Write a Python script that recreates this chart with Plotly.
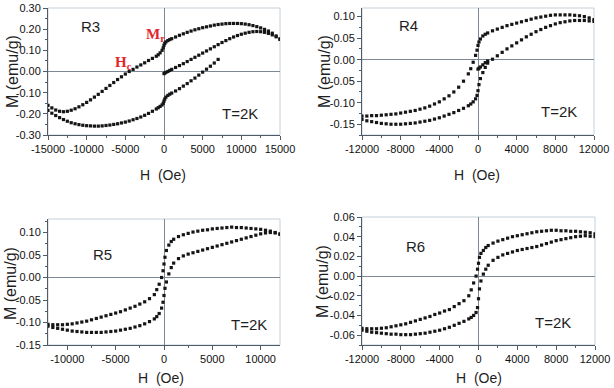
import plotly.graph_objects as go

# ---- data ----
H_R3 = [-15000, -14500, -14000, -13500, -13000, -12500, -12000, -11500, -11000, -10500,
        -10000, -9500, -9000, -8500, -8000, -7500, -7000, -6500, -6000, -5500,
        -5000, -4500, -4000, -3500, -3000, -2500, -2000, -1500, -1000, -750,
        -500, -250, -100, 0, 100, 250, 500, 750, 1000, 1500,
        2000, 2500, 3000, 3500, 4000, 4500, 5000, 5500, 6000, 6500,
        7000, 7500, 8000, 8500, 9000, 9500, 10000, 10500, 11000, 11500,
        12000, 12500, 13000, 13500, 14000, 14500, 15000]

M_R3_down = [-0.160, -0.172, -0.182, -0.188, -0.190, -0.188, -0.183, -0.176, -0.167, -0.157,
             -0.146, -0.134, -0.121, -0.108, -0.094, -0.080, -0.066, -0.052, -0.038, -0.025,
             -0.012, 0.000, 0.010, 0.021, 0.031, 0.041, 0.052, 0.062, 0.072, 0.079,
             0.088, 0.100, 0.112, 0.124, 0.133, 0.140, 0.146, 0.151, 0.155, 0.163,
             0.171, 0.178, 0.185, 0.191, 0.197, 0.202, 0.207, 0.211, 0.215, 0.219,
             0.222, 0.224, 0.226, 0.227, 0.227, 0.227, 0.226, 0.224, 0.221, 0.217,
             0.212, 0.206, 0.199, 0.191, 0.181, 0.168, 0.152]

M_R3_up = [-0.184, -0.197, -0.208, -0.218, -0.227, -0.235, -0.242, -0.247, -0.251, -0.254,
           -0.256, -0.257, -0.258, -0.258, -0.257, -0.255, -0.253, -0.250, -0.247, -0.243,
           -0.239, -0.234, -0.228, -0.222, -0.215, -0.207, -0.198, -0.188, -0.177, -0.171,
           -0.165, -0.158, -0.150, -0.140, -0.130, -0.121, -0.113, -0.107, -0.102, -0.092,
           -0.081, -0.069, -0.057, -0.044, -0.031, -0.017, -0.003, 0.011, 0.025, 0.040,
           0.057, None, None, None, None, None, None, None, None, None,
           None, None, None, None, None, None, None]

M_R3_virgin = [None, None, None, None, None, None, None, None, None, None,
               None, None, None, None, None, None, None, None, None, None,
               None, None, None, None, None, None, None, None, None, None,
               None, None, None, -0.010, -0.007, -0.004, 0.000, 0.005, 0.010, 0.019,
               0.028, 0.037, 0.047, 0.057, 0.067, 0.077, 0.087, 0.097, 0.107, 0.117,
               0.127, 0.137, 0.146, 0.155, 0.163, 0.170, 0.176, 0.181, 0.185, 0.188,
               0.189, 0.188, 0.185, 0.180, 0.173, 0.164, 0.154]

H_12K = [-12000, -11500, -11000, -10500, -10000, -9500, -9000, -8500, -8000, -7500,
         -7000, -6500, -6000, -5500, -5000, -4500, -4000, -3500, -3000, -2500,
         -2000, -1500, -1000, -750, -500, -250, -100, 0, 100, 250,
         500, 750, 1000, 1500, 2000, 2500, 3000, 3500, 4000, 4500,
         5000, 5500, 6000, 6500, 7000, 7500, 8000, 8500, 9000, 9500,
         10000, 10500, 11000, 11500, 12000]

M_R4_down = [-0.131, -0.131, -0.130, -0.130, -0.129, -0.128, -0.127, -0.126, -0.124, -0.122,
             -0.120, -0.118, -0.115, -0.112, -0.108, -0.103, -0.098, -0.091, -0.084, -0.075,
             -0.064, -0.050, -0.033, -0.021, -0.006, 0.010, 0.022, 0.033, 0.041, 0.048,
             0.055, 0.059, 0.062, 0.067, 0.071, 0.075, 0.079, 0.082, 0.085, 0.088,
             0.091, 0.094, 0.097, 0.099, 0.101, 0.103, 0.104, 0.104, 0.104, 0.104,
             0.103, 0.102, 0.100, 0.097, 0.093]

M_R4_up = [-0.139, -0.142, -0.144, -0.146, -0.148, -0.149, -0.150, -0.150, -0.150, -0.149,
           -0.148, -0.147, -0.145, -0.143, -0.141, -0.138, -0.135, -0.131, -0.127, -0.123,
           -0.118, -0.113, -0.107, -0.103, -0.098, -0.091, -0.083, -0.072, -0.058, -0.044,
           -0.030, -0.018, -0.008, 0.001, 0.009, 0.017, 0.025, 0.032, 0.039, 0.046,
           0.053, 0.059, 0.065, 0.070, 0.075, 0.079, 0.083, 0.086, 0.088, 0.090,
           0.091, 0.091, 0.091, 0.090, 0.089]

M_R4_virgin = [None, None, None, None, None, None, None, None, None, None,
               None, None, None, None, None, None, None, None, None, None,
               None, None, None, None, None, None, None, -0.022, -0.020, -0.017,
               -0.012, -0.007, -0.003, None, None, None, None, None, None, None,
               None, None, None, None, None, None, None, None, None, None,
               None, None, None, None, None]

M_R5_down = [-0.104, -0.105, -0.105, -0.105, -0.104, -0.103, -0.101, -0.099, -0.097, -0.094,
             -0.091, -0.088, -0.085, -0.082, -0.079, -0.076, -0.072, -0.068, -0.064, -0.059,
             -0.054, -0.047, -0.038, -0.027, -0.015, 0.000, 0.015, 0.030, 0.045, 0.060,
             0.072, 0.080, 0.085, 0.091, 0.095, 0.098, 0.101, 0.103, 0.105, 0.106,
             0.108, 0.109, 0.110, 0.111, 0.112, 0.111, 0.111, 0.110, 0.109, 0.108,
             0.107, 0.105, 0.103, 0.100, 0.096]

M_R5_up = [-0.108, -0.111, -0.113, -0.115, -0.117, -0.119, -0.120, -0.121, -0.122, -0.122,
           -0.122, -0.122, -0.121, -0.120, -0.119, -0.117, -0.115, -0.113, -0.110, -0.107,
           -0.103, -0.098, -0.092, -0.087, -0.080, -0.068, -0.055, -0.040, -0.024, -0.010,
           0.008, 0.022, 0.032, 0.042, 0.048, 0.052, 0.055, 0.058, 0.061, 0.064,
           0.067, 0.070, 0.073, 0.076, 0.079, 0.082, 0.085, 0.088, 0.091, 0.094,
           0.097, 0.099, 0.100, 0.099, 0.097]

M_R6_down = [-0.0530, -0.0535, -0.0535, -0.0535, -0.0530, -0.0525, -0.0515, -0.0505, -0.0495, -0.0485,
             -0.0470, -0.0455, -0.0440, -0.0425, -0.0410, -0.0390, -0.0375, -0.0355, -0.0340, -0.0310,
             -0.0280, -0.0250, -0.0200, -0.0140, -0.0070, 0.0000, 0.0070, 0.0130, 0.0190, 0.0230,
             0.0260, 0.0290, 0.0310, 0.0335, 0.0355, 0.0370, 0.0385, 0.0400, 0.0410, 0.0420,
             0.0430, 0.0440, 0.0450, 0.0455, 0.0460, 0.0465, 0.0465, 0.0460, 0.0460, 0.0455,
             0.0455, 0.0450, 0.0445, 0.0440, 0.0430]

M_R6_up = [-0.0550, -0.0560, -0.0570, -0.0575, -0.0580, -0.0585, -0.0590, -0.0590, -0.0595, -0.0595,
           -0.0595, -0.0590, -0.0585, -0.0580, -0.0570, -0.0560, -0.0550, -0.0535, -0.0520, -0.0500,
           -0.0480, -0.0460, -0.0435, -0.0420, -0.0400, -0.0370, -0.0320, -0.0230, -0.0130, -0.0050,
           0.0020, 0.0070, 0.0110, 0.0160, 0.0190, 0.0215, 0.0230, 0.0245, 0.0260, 0.0270,
           0.0280, 0.0290, 0.0300, 0.0315, 0.0330, 0.0345, 0.0360, 0.0370, 0.0380, 0.0390,
           0.0400, 0.0405, 0.0410, 0.0405, 0.0400]

# tick values / labels
X1_TICKS = [-15000, -10000, -5000, 0, 5000, 10000, 15000]
X1_LABELS = ["-15000", "-10000", "-5000", "0", "5000", "10000", "15000"]
X24_TICKS = [-12000, -8000, -4000, 0, 4000, 8000, 12000]
X24_LABELS = ["-12000", "-8000", "-4000", "0", "4000", "8000", "12000"]
X3_TICKS = [-10000, -5000, 0, 5000, 10000]
X3_LABELS = ["-10000", "-5000", "0", "5000", "10000"]
Y1_TICKS = [-0.3, -0.2, -0.1, 0.0, 0.1, 0.2, 0.3]
Y1_LABELS = ["-0.30", "-0.20", "-0.10", "0.00", "0.10", "0.20", "0.30"]
Y2_TICKS = [-0.15, -0.10, -0.05, 0.0, 0.05, 0.10]
Y2_LABELS = ["-0.15", "-0.10", "-0.05", "0.00", "0.05", "0.10"]
Y4_TICKS = [-0.06, -0.04, -0.02, 0.0, 0.02, 0.04, 0.06]
Y4_LABELS = ["-0.06", "-0.04", "-0.02", "0.00", "0.02", "0.04", "0.06"]

W, HGT = 614, 388
FONT = "Liberation Sans, Arial, sans-serif"
DOT = dict(symbol="square", size=3.2, color="#151515", line=dict(width=0))


def px_x(p):
    return p / W


def px_y(p):
    return 1 - p / HGT


fig = go.Figure()

series = [
    ("x", "y", H_R3, [M_R3_down, M_R3_up, M_R3_virgin]),
    ("x2", "y2", H_12K, [M_R4_down, M_R4_up, M_R4_virgin]),
    ("x3", "y3", H_12K, [M_R5_down, M_R5_up]),
    ("x4", "y4", H_12K, [M_R6_down, M_R6_up]),
]
for xa, ya, h, branches in series:
    for m in branches:
        fig.add_trace(go.Scatter(x=h, y=m, mode="markers", marker=DOT,
                                 xaxis=xa, yaxis=ya, showlegend=False,
                                 hoverinfo="skip"))

# panel geometry in pixels: (left, right, top, bottom)
panels = [
    (48, 280, 8, 135, [-15000, 15000], [-0.30, 0.30], X1_TICKS, X1_LABELS, 2500,
     Y1_TICKS, Y1_LABELS, 0.05),
    (362, 594, 8, 135, [-12000, 12000], [-0.175, 0.12], X24_TICKS, X24_LABELS, 2000,
     Y2_TICKS, Y2_LABELS, 0.025),
    (48, 280, 219, 345, [-12000, 12000], [-0.15, 0.13], X3_TICKS, X3_LABELS, 2500,
     Y2_TICKS, Y2_LABELS, 0.025),
    (362, 595, 217, 345, [-12000, 12000], [-0.07, 0.06], X24_TICKS, X24_LABELS, 2000,
     Y4_TICKS, Y4_LABELS, 0.01),
]

axis_common = dict(showgrid=False, showline=True, linecolor="#4f5b66", linewidth=1,
                   ticks="outside", ticklen=4, tickwidth=1, tickcolor="#4f5b66",
                   zeroline=True, zerolinecolor="#7c8994", zerolinewidth=1,
                   tickfont=dict(family=FONT, size=11, color="#111111"),
                   automargin=False, fixedrange=True)

layout_axes = {}
shapes = []
for i, (l, r, t, b, xr, yr, xt, xl, xminor, yt, yl, yminor) in enumerate(panels):
    n = "" if i == 0 else str(i + 1)
    layout_axes["xaxis" + n] = dict(axis_common, domain=[px_x(l), px_x(r)], range=xr,
                                    anchor="y" + n, tickmode="array", tickvals=xt,
                                    ticktext=xl,
                                    minor=dict(ticks="outside", ticklen=2, dtick=xminor,
                                               tick0=0, tickcolor="#4f5b66"))
    layout_axes["yaxis" + n] = dict(axis_common, domain=[px_y(b), px_y(t)], range=yr,
                                    anchor="x" + n, tickmode="array", tickvals=yt,
                                    ticktext=yl,
                                    minor=dict(ticks="outside", ticklen=2, dtick=yminor,
                                               tick0=0, tickcolor="#4f5b66"))
    shapes.append(dict(type="rect", xref="x" + n + " domain", yref="y" + n + " domain",
                       x0=0, x1=1, y0=0, y1=1, layer="below",
                       line=dict(color="#c6d0da", width=1)))

annotations = []


def note(text, x, y, size=14, angle=0, color="#1e1e1e", family=FONT,
         xanchor="center", yanchor="middle"):
    annotations.append(dict(text=text, x=px_x(x), y=px_y(y), xref="paper", yref="paper",
                            showarrow=False, textangle=angle, xanchor=xanchor,
                            yanchor=yanchor, font=dict(family=family, size=size,
                                                       color=color)))


# axis titles
note("M (emu/g)", 12, 72, size=16, angle=-90)
note("M (emu/g)", 324, 72, size=16, angle=-90)
note("M (emu/g)", 10, 284, size=16, angle=-90)
note("M (emu/g)", 322, 282, size=16, angle=-90)
note("H  (Oe)", 163, 175)
note("H  (Oe)", 477, 175)
note("H  (Oe)", 161, 388, yanchor="bottom")
note("H  (Oe)", 479, 388, yanchor="bottom")

# sample labels
note("R3", 90, 27, size=15)
note("R4", 408, 26, size=15)
note("R5", 102, 254, size=15)
note("R6", 415, 246, size=15)
for x, y in [(240, 113), (559, 112), (249, 324), (553, 322)]:
    note("T=2K", x, y, size=15)

# coercivity / remanence marks
note("<b>H<sub>c</sub></b>", 113, 63, size=15, color="#e3262c",
     family="Liberation Serif, Times New Roman, serif", xanchor="left")
note("<b>M<sub>r</sub></b>", 144, 35, size=15, color="#e3262c",
     family="Liberation Serif, Times New Roman, serif", xanchor="left")

fig.update_layout(template="none", width=W, height=HGT,
                  margin=dict(l=0, r=0, t=0, b=0, pad=0),
                  paper_bgcolor="white", plot_bgcolor="white",
                  shapes=shapes, annotations=annotations, **layout_axes)

# the page's default 8px body margin would shift the fixed-size figure
fig.write_html("out.html", config={"displayModeBar": False},
               post_script="document.body.style.margin = '0';")
